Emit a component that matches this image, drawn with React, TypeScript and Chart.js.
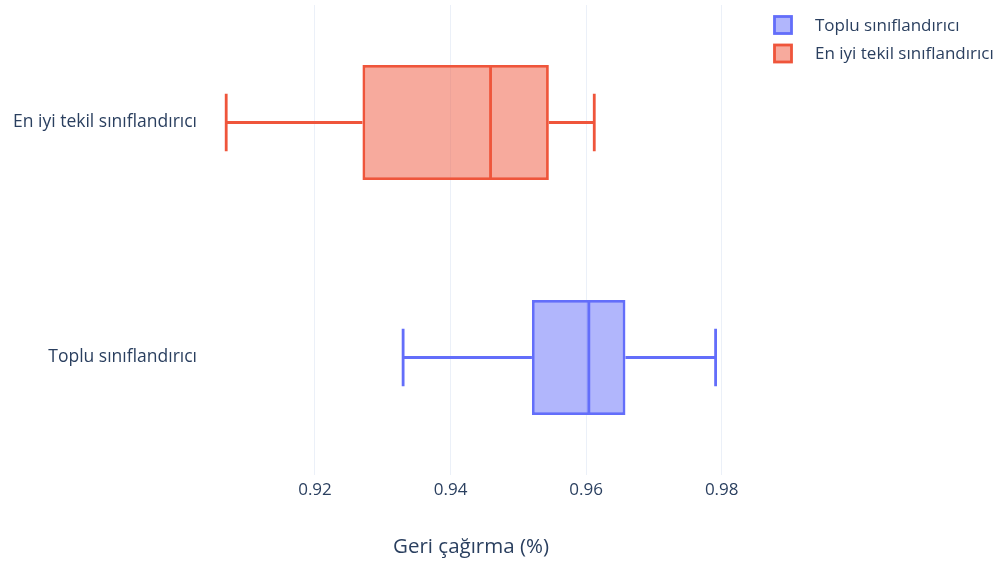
import React, { useEffect, useRef } from 'react';
import { Chart, registerables } from 'chart.js';

Chart.register(...registerables);

// Categories on the vertical axis, top to bottom
const categories = ['En iyi tekil sınıflandırıcı', 'Toplu sınıflandırıcı'];

// Series names (legend order)
const seriesNames = ['Toplu sınıflandırıcı', 'En iyi tekil sınıflandırıcı'];

// Five-number summaries: [min, q1, median, q3, max]
const topluStats = [0.933, 0.952, 0.9604, 0.9658, 0.9791];
const tekilStats = [0.9069, 0.927, 0.9459, 0.9545, 0.9612];

// Horizontal axis ticks and range
const xTicks = [0.92, 0.94, 0.96, 0.98];
const xMin = 0.90333;
const xMax = 0.9827;
const xTitle = 'Geri çağırma (%)';

const FONT = '"Open Sans", "Noto Sans", sans-serif';
const TEXT = '#2a3f5f';
const LINE_W = 2.8;

const seriesStats = [topluStats, tekilStats];
const seriesCategory = [1, 0];
const seriesLine = ['#636efa', '#EF553B'];
const seriesFill = ['rgba(99,110,250,0.5)', 'rgba(239,85,59,0.5)'];

const boxPlugin = {
  id: 'boxWhiskers',
  afterDatasetsDraw(chart: any) {
    const ctx = chart.ctx;
    const xs = chart.scales.x;
    chart.data.datasets.forEach((ds: any, i: number) => {
      const meta = chart.getDatasetMeta(i);
      const el = meta.data[ds.catIndex];
      if (!el) return;
      const { y, height } = el.getProps(['y', 'height'], true);
      const [mn, q1, md, q3, mx] = ds.stats;
      const pMin = xs.getPixelForValue(mn);
      const pQ1 = xs.getPixelForValue(q1);
      const pMd = xs.getPixelForValue(md);
      const pQ3 = xs.getPixelForValue(q3);
      const pMax = xs.getPixelForValue(mx);
      const capH = height / 2;
      ctx.save();
      ctx.strokeStyle = ds.borderColor;
      ctx.lineWidth = LINE_W;
      ctx.beginPath();
      // whiskers
      ctx.moveTo(pMin, y);
      ctx.lineTo(pQ1, y);
      ctx.moveTo(pQ3, y);
      ctx.lineTo(pMax, y);
      // caps
      ctx.moveTo(pMin, y - capH / 2);
      ctx.lineTo(pMin, y + capH / 2);
      ctx.moveTo(pMax, y - capH / 2);
      ctx.lineTo(pMax, y + capH / 2);
      // median
      ctx.moveTo(pMd, y - height / 2 + 1);
      ctx.lineTo(pMd, y + height / 2 - 1);
      ctx.stroke();
      ctx.restore();
    });
  },
  afterDraw(chart: any) {
    const ctx = chart.ctx;
    const area = chart.chartArea;
    ctx.save();
    // axis title
    ctx.fillStyle = TEXT;
    ctx.font = `20.5px ${FONT}`;
    ctx.textAlign = 'center';
    ctx.textBaseline = 'middle';
    ctx.fillText(xTitle, (area.left + area.right) / 2, 547);
    // legend
    ctx.font = `17px ${FONT}`;
    ctx.textAlign = 'left';
    chart.data.datasets.forEach((ds: any, i: number) => {
      const cy = 25 + i * 28.5;
      ctx.fillStyle = ds.backgroundColor;
      ctx.fillRect(774.5, cy - 8.5, 17, 17);
      ctx.strokeStyle = ds.borderColor;
      ctx.lineWidth = LINE_W;
      ctx.strokeRect(774.5, cy - 8.5, 17, 17);
      ctx.fillStyle = TEXT;
      ctx.fillText(ds.label, 815, cy + 1);
    });
    ctx.restore();
  },
};

export default function App() {
  const canvasRef = useRef<HTMLCanvasElement | null>(null);

  useEffect(() => {
    let chart: Chart | null = null;
    let cancelled = false;

    const build = () => {
      if (cancelled || !canvasRef.current) return;
      const datasets = seriesNames.map((name, i) => {
        const s = seriesStats[i];
        const data: any[] = categories.map((_, c) => (c === seriesCategory[i] ? [s[1], s[3]] : null));
        return {
          label: name,
          data,
          stats: s,
          catIndex: seriesCategory[i],
          backgroundColor: seriesFill[i],
          borderColor: seriesLine[i],
          borderWidth: LINE_W,
          borderSkipped: false,
          grouped: false,
          barPercentage: 0.49,
          categoryPercentage: 1,
        };
      });

      chart = new Chart(canvasRef.current, {
        type: 'bar',
        data: { labels: categories, datasets: datasets as any },
        options: {
          animation: false,
          responsive: false,
          devicePixelRatio: 1,
          indexAxis: 'y',
          layout: { padding: { top: 5, right: 267, left: 0, bottom: 0 } },
          plugins: {
            legend: { display: false },
            tooltip: { enabled: false },
            title: { display: false },
          },
          scales: {
            x: {
              type: 'linear',
              min: xMin,
              max: xMax,
              afterBuildTicks: (scale: any) => {
                scale.ticks = xTicks.map((v) => ({ value: v }));
              },
              afterFit: (scale: any) => {
                scale.height = 90;
                scale.paddingLeft = 0;
                scale.paddingRight = 0;
              },
              grid: { color: '#ebf0f8', lineWidth: 1, drawTicks: false },
              border: { display: false },
              ticks: {
                color: TEXT,
                font: { family: FONT, size: 17 },
                padding: 5,
                maxRotation: 0,
                callback: (v: any) => Number(v).toFixed(2),
              },
            },
            y: {
              type: 'category',
              offset: true,
              afterFit: (scale: any) => {
                scale.width = 202;
                scale.paddingTop = 0;
                scale.paddingBottom = 0;
              },
              grid: { display: false, drawTicks: false },
              border: { display: false },
              ticks: {
                color: TEXT,
                font: { family: FONT, size: 17.5 },
                padding: 5,
              },
            },
          },
        },
        plugins: [boxPlugin],
      });
    };

    if ((document as any).fonts && (document as any).fonts.load) {
      Promise.all([
        (document as any).fonts.load(`17px "Open Sans"`),
        (document as any).fonts.load(`20px "Open Sans"`),
      ])
        .catch(() => null)
        .then(build);
    } else {
      build();
    }

    return () => {
      cancelled = true;
      if (chart) chart.destroy();
    };
  }, []);

  return (
    <div style={{ position: 'fixed', left: 0, top: 0, width: 1007, height: 565, background: '#fff' }}>
      <canvas ref={canvasRef} width={1007} height={565} style={{ display: 'block' }} />
    </div>
  );
}
